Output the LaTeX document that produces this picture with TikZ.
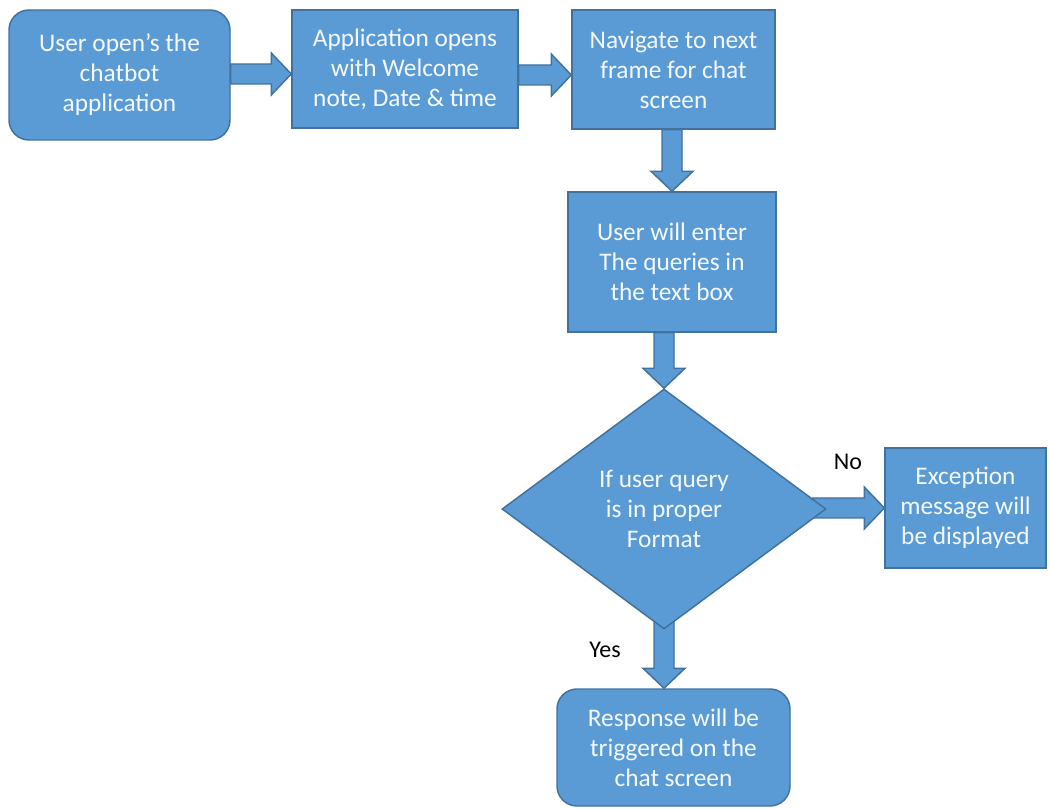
\documentclass[tikz,border=0pt]{standalone}
\usepackage{fontspec}
\setmainfont{Carlito}
\usetikzlibrary{shapes.geometric,calc,backgrounds}
\definecolor{boxfill}{HTML}{5B9BD5}
\definecolor{boxline}{HTML}{41719C}
\definecolor{boxtext}{HTML}{F4F9FF}
\tikzset{
  box/.style={draw=boxline, line width=1.1pt, fill=boxfill, text=boxtext, align=center,
    inner sep=0pt, font=\fontsize{19}{22.5}\selectfont},
  rbox/.style={box, rounded corners=15pt},
  dia/.style={box, diamond, minimum width=243pt, minimum height=180pt},
  lbl/.style={text=black, font=\fontsize{18}{21}\selectfont, inner sep=0pt},
  blockarr/.style={draw=boxline, line width=1.1pt, fill=boxfill, line join=miter}
}
\newcommand\blkH[2]{%
 \filldraw[blockarr] let \p1=(#1), \p2=(#2) in
 (\x1,\y2-7.5pt) -- (\x2-15pt,\y2-7.5pt) -- (\x2-15pt,\y2-15.75pt) -- (\x2,\y2) --
 (\x2-15pt,\y2+15.75pt) -- (\x2-15pt,\y2+7.5pt) -- (\x1,\y2+7.5pt) -- cycle;}
\newcommand\blkV[2]{%
 \filldraw[blockarr] let \p1=(#1), \p2=(#2) in
 (\x2-7.5pt,\y1) -- (\x2-7.5pt,\y2+15pt) -- (\x2-15.75pt,\y2+15pt) -- (\x2,\y2) --
 (\x2+15.75pt,\y2+15pt) -- (\x2+7.5pt,\y2+15pt) -- (\x2+7.5pt,\y1) -- cycle;}
\begin{document}
\begin{tikzpicture}[x=0.75pt,y=-0.75pt]
\useasboundingbox (0,0) rectangle (1051,809);

\node[rbox, minimum width=165.75pt, minimum height=97.5pt] (b1) at (119.5,75)
  {User open’s the\\chatbot\\application};
\node[box, minimum width=169.5pt, minimum height=88.5pt] (b2) at (405,69)
  {Application opens\\with Welcome\\note, Date \& time};
\node[box, minimum width=152.25pt, minimum height=89.25pt] (b3) at (673.5,69.5)
  {Navigate to next\\frame for chat\\screen};
\node[box, minimum width=156pt, minimum height=105pt] (b4) at (672,262)
  {User will enter\\The queries in\\the text box};
\node[dia] (d) at (664,509)
  {If user query\\is in proper\\Format};
\node[box, minimum width=120.75pt, minimum height=90pt] (exc) at (965.5,508)
  {Exception\\message will\\be displayed};
\node[rbox, minimum width=174.75pt, minimum height=87.75pt] (fin) at (673.5,747.5)
  {Response will be\\triggered on the\\chat screen};

\node[lbl] (no) at (848,462) {No};
\node[lbl] (yes) at (605,650) {Yes};

\begin{scope}[on background layer]
\blkH{b1.east |- 0,74}{b2.west |- 0,74}
\blkH{b2.east |- 0,75}{b3.west |- 0,75}
\blkV{b3.south}{b4.north}
\blkV{b4.south}{d.north}
\blkH{$(d.east)+(-14,0)$}{exc.west}
\blkV{$(d.south)+(0,-14)$}{fin.north -| d.south}
\end{scope}
\end{tikzpicture}
\end{document}
